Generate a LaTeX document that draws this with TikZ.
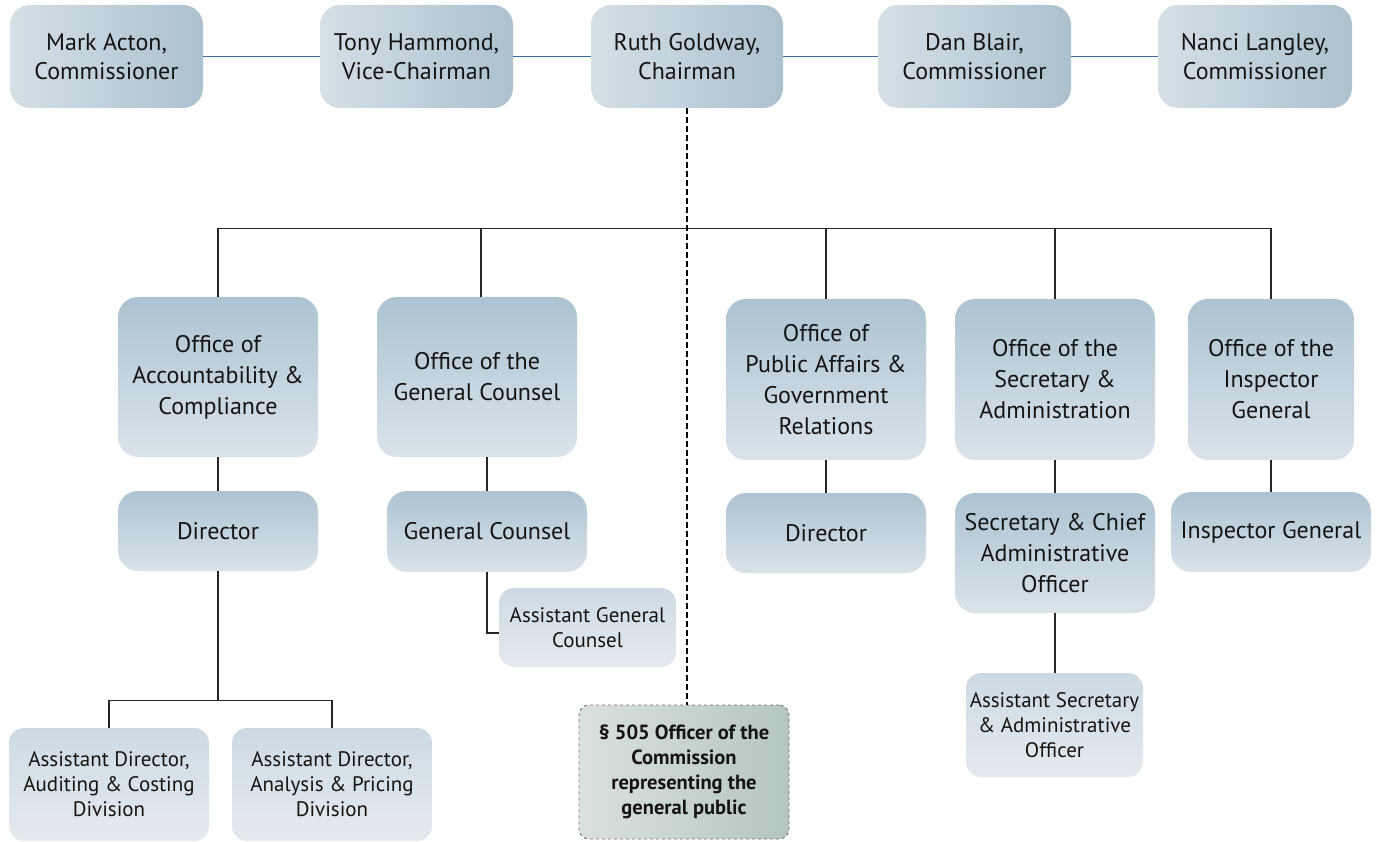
\documentclass[tikz,border=0pt]{standalone}
\usepackage{fontspec}
\setmainfont{PT Sans}
\usetikzlibrary{calc}
\definecolor{tl}{HTML}{D5DFE6}
\definecolor{tr}{HTML}{ACC1CE}
\definecolor{mt}{HTML}{ADC3D1}
\definecolor{mb}{HTML}{DAE3EA}
\definecolor{st}{HTML}{CDDAE3}
\definecolor{sb}{HTML}{E5EAEF}
\definecolor{dl}{HTML}{DAE1DE}
\definecolor{dr}{HTML}{B5C6BF}
\definecolor{bl}{HTML}{3A6A9E}
\definecolor{txt}{HTML}{141414}
\begin{document}
\begin{tikzpicture}[x=1pt,y=-1pt,
  box/.style={rounded corners=20pt, inner sep=0pt, align=center, text=txt, draw=none},
  topbox/.style={box, left color=tl, right color=tr, minimum height=103pt, font=\fontsize{24}{29}\selectfont},
  midbox/.style={box, top color=mt, bottom color=mb, font=\fontsize{24}{31}\selectfont},
  subbox/.style={box, rounded corners=15pt, top color=st, bottom color=sb, font=\fontsize{21}{25}\selectfont},
  dashbox/.style={box, rounded corners=10pt, left color=dl, right color=dr, draw=black!55, dashed, line width=0.9pt, font=\bfseries\fontsize{20.5}{25}\selectfont},
  link/.style={line width=1.4pt, black!85},
  blink/.style={line width=1.6pt, bl},
  dlink/.style={line width=1.3pt, black, dash pattern=on 6pt off 3pt}]
\useasboundingbox (0,0) rectangle (1377,842);
% top row
\node[topbox, minimum width=193pt] (mark) at (106.5,56.5) {Mark Acton,\\Commissioner};
\node[topbox, minimum width=193pt] (tony) at (416.5,56.5) {Tony Hammond,\\Vice-Chairman};
\node[topbox, minimum width=192pt] (ruth) at (687,56.5) {Ruth Goldway,\\Chairman};
\node[topbox, minimum width=193pt] (dan) at (974.5,56.5) {Dan Blair,\\Commissioner};
\node[topbox, minimum width=194pt] (nanci) at (1255,56.5) {Nanci Langley,\\Commissioner};
\draw[blink] (mark.east) -- (tony.west);
\draw[blink] (tony.east) -- (ruth.west);
\draw[blink] (ruth.east) -- (dan.west);
\draw[blink] (dan.east) -- (nanci.west);
% offices
\node[midbox, minimum width=200pt, minimum height=160pt] (acc) at (218,377) {Office of\\Accountability \&\\Compliance};
\node[midbox, minimum width=200pt, minimum height=160pt] (ogc) at (477,377) {Office of the\\General Counsel};
\node[midbox, minimum width=200pt, minimum height=161pt] (opa) at (826,379.5) {Office of\\Public Affairs \&\\Government\\Relations};
\node[midbox, minimum width=200pt, minimum height=161pt] (osa) at (1055,379.5) {Office of the\\Secretary \&\\Administration};
\node[midbox, minimum width=166pt, minimum height=161pt] (oig) at (1271,379.5) {Office of the\\Inspector\\General};
% second row
\node[midbox, minimum width=200pt, minimum height=80pt] (dir1) at (218,531) {Director};
\node[midbox, minimum width=200pt, minimum height=81pt] (gc) at (487,531.5) {General Counsel};
\node[midbox, minimum width=200pt, minimum height=80pt] (dir2) at (826,533) {Director};
\node[midbox, minimum width=200pt, minimum height=120pt] (sec) at (1055,553) {Secretary \& Chief\\Administrative\\Officer};
\node[midbox, minimum width=200pt, minimum height=80pt] (ig) at (1271,532) {Inspector General};
% third row
\node[subbox, minimum width=177pt, minimum height=79pt] (agc) at (587.5,627.5) {Assistant General\\Counsel};
\node[subbox, minimum width=177pt, minimum height=104pt] (asec) at (1054.5,725) {Assistant Secretary\\\& Administrative\\Officer};
\node[subbox, minimum width=200pt, minimum height=113pt] (ad1) at (109,784.5) {Assistant Director,\\Auditing \& Costing\\Division};
\node[subbox, minimum width=200pt, minimum height=113pt] (ad2) at (332,784.5) {Assistant Director,\\Analysis \& Pricing\\Division};
\node[dashbox, minimum width=210pt, minimum height=134pt] (s505) at (684,772) {§ 505 Officer of the\\Commission\\representing the\\general public};
% connectors
\coordinate (bus) at (0,228.5);
\coordinate (ogctop) at ($(ogc.north)+(4,0)$);
\draw[link] (acc.north) -- (acc.north |- bus) -- (oig.north |- bus) -- (oig.north);
\draw[link] (ogctop) -- (ogctop |- bus);
\draw[link] (opa.north) -- (opa.north |- bus);
\draw[link] (osa.north) -- (osa.north |- bus);
\draw[dlink] (ruth.south) -- (ruth.south |- s505.north);
\draw[link] (acc.south) -- (dir1.north);
\coordinate (split) at ($(dir1.south)+(0,129)$);
\draw[link] (dir1.south) -- (split);
\draw[link] (ad1.north) |- (split) -| (ad2.north);
\draw[link] (gc.north) -- (gc.north |- ogc.south);
\draw[link] (gc.south) |- ($(agc.west)+(0,5.5)$);
\draw[link] (opa.south) -- (dir2.north);
\draw[link] (osa.south) -- (sec.north);
\draw[link] (sec.south) -- (sec.south |- asec.north);
\draw[link] (oig.south) -- (ig.north);
\end{tikzpicture}
\end{document}
